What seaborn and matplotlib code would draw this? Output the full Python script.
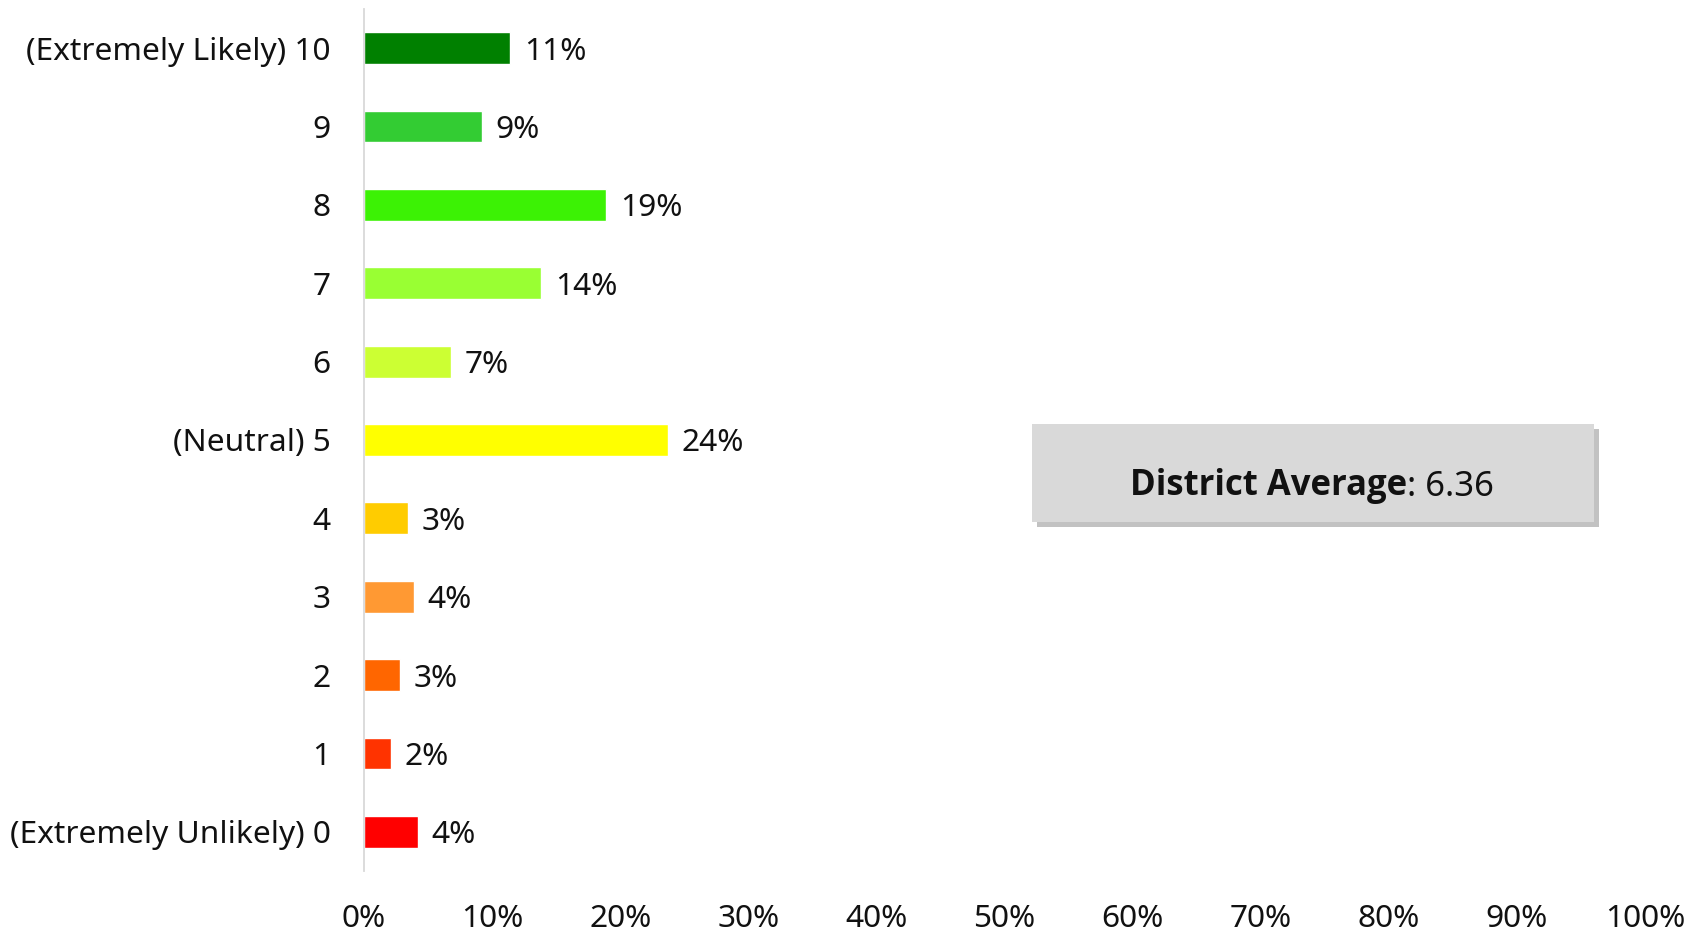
import matplotlib
matplotlib.use("Agg")
import matplotlib.pyplot as plt
from matplotlib.patches import Rectangle
from matplotlib.text import Annotation
import seaborn as sns
import pandas as pd

categories = ["(Extremely Likely) 10", "9", "8", "7", "6", "(Neutral) 5",
              "4", "3", "2", "1", "(Extremely Unlikely) 0"]
values = [11.4, 9.2, 18.9, 13.8, 6.8, 23.7, 3.44, 3.9, 2.8, 2.1, 4.2]
value_labels = ["11%", "9%", "19%", "14%", "7%", "24%", "3%", "4%", "3%", "2%", "4%"]
colors = ["#008000", "#33CC33", "#3CF205", "#99FF33", "#CCFF33", "#FFFF00",
          "#FFCC00", "#FF9933", "#FF6600", "#FF3300", "#FF0000"]
x_ticks = [0, 10, 20, 30, 40, 50, 60, 70, 80, 90, 100]
x_tick_labels = ["0%", "10%", "20%", "30%", "40%", "50%", "60%", "70%", "80%", "90%", "100%"]
average_label = "District Average"
average_value = ": 6.36"

sns.set_theme(style="white")
plt.rcParams['font.family'] = ['Noto Sans', 'DejaVu Sans']

df = pd.DataFrame({"cat": categories, "val": values})

fig = plt.figure(figsize=(16.95, 9.33), dpi=100)
ax = fig.add_axes([364/1695, 62/933, (1645-364)/1695, (871-9)/933])

sns.barplot(data=df, x="val", y="cat", hue="cat", palette=colors, legend=False,
            orient="h", width=0.405, ax=ax, saturation=1)

FS = 22.8
for cont, lab in zip(ax.containers, value_labels):
    texts = ax.bar_label(cont, labels=[lab], padding=10, fontsize=FS, color="#111111")
    for t in texts:
        t.set_va("center_baseline")

ax.set_xlim(0, 100)
ax.set_xticks(x_ticks)
ax.set_xticklabels(x_tick_labels)
ax.set_xlabel("")
ax.set_ylabel("")
for s in ["top", "right", "bottom"]:
    ax.spines[s].set_visible(False)
ax.spines["left"].set_color("#d9d9d9")
ax.spines["left"].set_linewidth(1.3)
ax.tick_params(axis="x", length=0, pad=24, labelsize=FS, labelcolor="#111111")
ax.tick_params(axis="y", length=0, pad=24, labelsize=FS, labelcolor="#111111")
for t in ax.get_yticklabels():
    t.set_va("center_baseline")
ax.grid(False)

# District average box
W, H = 1695, 933
bx0, by0, bx1, by1 = 1032, 424, 1594, 522
shadow = Rectangle(((bx0 + 5) / W, 1 - (by1 + 5) / H), (bx1 - bx0) / W, (by1 - by0) / H,
                   transform=fig.transFigure, facecolor="#9a9a9a", edgecolor="none",
                   alpha=0.6, zorder=1)
box = Rectangle((bx0 / W, 1 - by1 / H), (bx1 - bx0) / W, (by1 - by0) / H,
                transform=fig.transFigure, facecolor="#d9d9d9", edgecolor="none", zorder=2)
fig.add_artist(shadow)
fig.add_artist(box)
t1 = fig.text(1130 / W, 1 - 481 / H, average_label, fontsize=25, fontweight="bold",
              family=["Open Sans", "DejaVu Sans"],
              ha="left", va="center_baseline", color="#111111", zorder=3)
fig.add_artist(Annotation(average_value, xy=(1, 0), xycoords=t1,
                          va="bottom", ha="left", fontsize=25, color="#111111", zorder=3,
                          family=["Noto Sans", "DejaVu Sans"]))

fig.savefig("out.png", dpi=100, facecolor="white")
